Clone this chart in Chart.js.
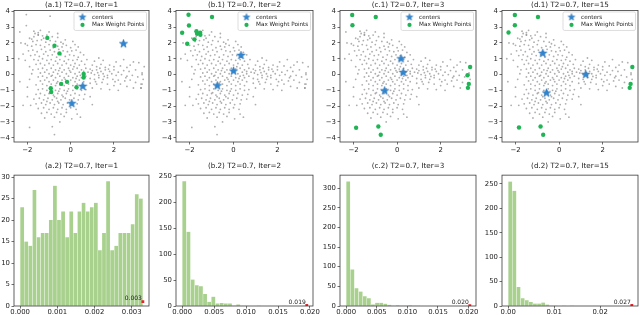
<!DOCTYPE html>
<html>
<head>
<meta charset="utf-8">
<script src="https://cdn.jsdelivr.net/npm/chart.js@4.4.1/dist/chart.umd.min.js"></script>
<style>
  body { margin: 0; background: #fff; width: 640px; height: 315px; overflow: hidden; position: relative; }
  canvas { position: absolute; }
</style>
</head>
<body>
<script>
// ---- data ----
var topTitles = ['(a.1) T2=0.7, Iter=1', '(b.1) T2=0.7, Iter=2', '(c.1) T2=0.7, Iter=3', '(d.1) T2=0.7, Iter=15'];
var bottomTitles = ['(a.2) T2=0.7, Iter=1', '(b.2) T2=0.7, Iter=2', '(c.2) T2=0.7, Iter=3', '(d.2) T2=0.7, Iter=15'];

var greyPoints = [
  [-1.9,2.3],[-1.7,2.4],[-1.5,2.5],[-1.3,2.45],[-1.1,2.5],[-0.85,2.4],[-0.6,2.35],[-1.75,2.1],[-1.55,2.15],[-1.35,2.2],
  [-1.15,2.05],[-0.95,2.15],[-0.7,2.1],[-0.45,2.05],[-0.25,2.2],[-2.0,1.85],[-1.8,1.8],[-1.6,1.9],[-1.4,1.85],[-1.2,1.75],
  [-1.0,1.9],[-0.8,1.7],[-0.6,1.8],[-0.4,1.75],[-0.2,1.85],[0.0,1.7],[0.2,1.9],[-1.95,1.5],[-1.75,1.55],[-1.55,1.45],
  [-1.35,1.6],[-1.15,1.45],[-0.95,1.55],[-0.75,1.45],[-0.55,1.6],[-0.35,1.5],[-0.15,1.45],[0.05,1.5],[0.25,1.55],[0.45,1.4],
  [-1.85,1.2],[-1.65,1.25],[-1.45,1.15],[-1.25,1.3],[-1.05,1.2],[-0.85,1.25],[-0.65,1.1],[-0.45,1.25],[-0.25,1.15],[-0.05,1.25],
  [0.15,1.2],[0.35,1.1],[0.6,1.25],[-1.7,0.95],[-1.5,0.9],[-1.3,1.0],[-1.1,0.9],[-0.9,0.95],[-0.7,0.85],[-0.5,0.95],
  [-0.3,0.85],[-0.1,0.95],[0.1,0.9],[0.3,0.95],[0.5,0.85],[0.75,0.95],[-1.6,0.65],[-1.4,0.7],[-1.2,0.6],[-1.0,0.7],
  [-0.8,0.6],[-0.6,0.7],[-0.4,0.6],[-0.2,0.7],[0.0,0.6],[0.2,0.7],[0.4,0.6],[0.65,0.65],[-2.2,1.3],[-2.1,0.9],
  [-1.9,0.5],[-1.75,0.3],[-1.0,2.7],[-0.6,2.6],[-1.4,2.8],[0.1,2.1],[0.35,1.75],[-2.3,2.0],[-1.25,2.3],[-0.35,1.95],
  [-1.5,0.35],[-1.3,0.4],[-1.1,0.3],[-0.9,0.4],[-0.7,0.3],[-0.5,0.4],[-0.3,0.3],[-0.1,0.4],[0.1,0.35],[0.3,0.4],
  [0.5,0.3],[0.7,0.4],[0.9,0.35],[-1.4,0.1],[-1.2,0.15],[-1.0,0.05],[-0.8,0.15],[-0.6,0.05],[-0.4,0.15],[-0.2,0.05],
  [0.0,0.15],[0.2,0.05],[0.4,0.15],[0.6,0.05],[0.8,0.15],[-1.5,-0.15],[-1.3,-0.1],[-1.1,-0.2],[-0.9,-0.1],[-0.7,-0.2],
  [-0.5,-0.1],[-0.3,-0.2],[-0.1,-0.1],[0.1,-0.2],[0.3,-0.1],[0.5,-0.2],[0.7,-0.1],[-1.4,-0.4],[-1.2,-0.35],[-1.0,-0.45],
  [-0.8,-0.35],[-0.6,-0.45],[-0.4,-0.35],[-0.2,-0.45],[0.0,-0.35],[0.2,-0.45],[0.4,-0.35],[0.6,-0.45],[-1.6,-0.65],[-1.3,-0.6],
  [-1.1,-0.7],[-0.9,-0.6],[-0.7,-0.7],[-0.5,-0.6],[-0.3,-0.7],[-0.1,-0.6],[0.1,-0.7],[0.3,-0.6],[0.5,-0.7],[-1.9,-0.3],
  [-1.8,0.05],[-2.0,-0.8],[-0.55,0.25],[-0.25,-0.3],[0.15,0.5],[-0.85,-0.05],[0.45,-0.05],[-0.05,0.25],[-0.65,-0.55],[0.25,-0.25],
  [1.0,0.6],[1.2,0.5],[1.4,0.65],[1.6,0.45],[1.8,0.6],[2.0,0.5],[2.3,0.55],[2.6,0.45],[2.9,0.8],[3.15,0.75],
  [1.0,0.25],[1.2,0.3],[1.4,0.2],[1.6,0.3],[1.8,0.2],[2.0,0.3],[2.2,0.15],[2.45,0.25],[2.7,0.2],[3.0,0.3],
  [3.3,0.1],[1.1,0.0],[1.3,-0.05],[1.5,0.05],[1.7,-0.05],[1.9,0.05],[2.1,-0.05],[2.35,0.0],[2.6,-0.1],[2.85,-0.05],
  [3.1,-0.15],[0.9,-0.25],[1.1,-0.3],[1.3,-0.2],[1.5,-0.3],[1.7,-0.2],[1.95,-0.3],[2.2,-0.35],[2.5,-0.4],[2.75,-0.35],
  [3.0,-0.5],[3.25,-0.6],[0.9,-0.55],[1.2,-0.6],[1.45,-0.5],[1.7,-0.6],[2.0,-0.7],[2.3,-0.6],[2.6,-0.75],[2.9,-0.85],
  [3.25,-0.85],[1.0,-0.85],[1.4,-0.9],[1.8,-0.95],[2.2,-1.0],[1.1,0.85],[1.5,0.9],[2.1,0.8],[2.45,0.95],[1.3,1.05],
  [3.4,0.5],[1.25,0.12],[1.55,-0.12],[0.95,0.1],[1.35,0.4],[1.75,0.35],[2.05,-0.45],[1.15,-0.45],[2.75,0.6],[3.35,-0.3],
  [-1.5,-0.95],[-1.3,-0.9],[-1.1,-1.0],[-0.9,-0.9],[-0.7,-1.0],[-0.5,-0.9],[-0.3,-1.0],[-0.1,-0.9],[0.1,-1.0],[0.3,-0.9],
  [0.5,-1.0],[0.7,-0.95],[-1.6,-1.25],[-1.4,-1.2],[-1.2,-1.3],[-1.0,-1.2],[-0.8,-1.3],[-0.6,-1.2],[-0.4,-1.3],[-0.2,-1.2],
  [0.0,-1.3],[0.2,-1.2],[0.4,-1.3],[0.65,-1.25],[-1.7,-1.55],[-1.45,-1.5],[-1.25,-1.6],[-1.05,-1.5],[-0.85,-1.6],[-0.65,-1.5],
  [-0.45,-1.6],[-0.25,-1.5],[-0.05,-1.6],[0.15,-1.5],[0.35,-1.6],[0.6,-1.55],[-1.6,-1.85],[-1.35,-1.8],[-1.15,-1.9],[-0.95,-1.8],
  [-0.75,-1.9],[-0.55,-1.8],[-0.35,-1.9],[-0.15,-1.8],[0.05,-1.9],[0.3,-1.85],[-1.5,-2.15],[-1.25,-2.1],[-1.0,-2.2],[-0.8,-2.1],
  [-0.6,-2.2],[-0.4,-2.1],[-0.2,-2.2],[0.0,-2.1],[0.25,-2.2],[-1.35,-2.45],[-1.1,-2.4],[-0.9,-2.5],[-0.65,-2.4],[-0.45,-2.5],
  [-0.2,-2.4],[0.3,-2.5],[0.45,-2.7],[-1.2,-2.75],[-0.75,-2.7],[-0.3,-2.65],[0.05,-2.8],[-0.5,-3.0],[-1.85,-1.95],[-2.2,-1.95],
  [-2.0,-1.4],[0.9,-1.4],[1.0,-1.9],[-0.55,-1.05],[-0.75,-1.4],[-0.35,-1.4],[-0.95,-1.15],[-0.15,-1.05],[-0.6,-1.7],[-1.1,-1.7],
  [-2.05,3.8],[-2.05,3.1],[-2.35,2.7],[-0.95,3.7],[-1.7,2.75],[-1.65,2.6],[-1.5,2.65],[-1.5,2.52],[-1.8,2.25],[-2.1,1.95],
  [3.3,0.0],[3.3,-0.6],[3.25,-0.85],[-2.4,1.0],[-2.35,-0.45],[-1.9,-3.35],[-0.85,-3.3],[-0.75,-3.8],[2.55,-0.2],[0.6,0.2]
];

var greenA = [[-1.08,2.32],[-0.75,1.82],[-0.52,1.34],[0.6,0.04],[0.6,-0.19],[-0.17,-0.46],[-0.44,-0.59],[0.27,-0.8],[-0.92,-0.86],[-0.9,-1.1]];
var greenB = [[-2.05,3.79],[-2.03,3.11],[-2.34,2.65],[-1.69,2.75],[-1.66,2.58],[-1.52,2.65],[-1.51,2.52],[-1.78,2.23],[-2.11,1.95],[-0.98,3.64]];
var greenC = [[-2.06,3.77],[-2.05,3.12],[-0.98,3.64],[3.35,0.48],[3.23,-0.04],[3.29,-0.59],[3.25,-0.84],[-1.88,-3.37],[-0.86,-3.29],[-0.75,-3.81]];
var greenD = [[-2.03,3.77],[-2.03,3.12],[-2.32,2.66],[-0.97,3.64],[3.36,0.48],[3.28,-0.59],[3.24,-0.84],[-1.84,-3.35],[-0.85,-3.29],[-0.73,-3.81]];

var centersA = [[2.44,1.95],[0.56,-0.75],[0.05,-1.84]];
var centersB = [[0.34,1.21],[0.0,0.22],[-0.74,-0.71]];
var centersC = [[0.18,1.0],[0.28,0.13],[-0.57,-1.03]];
var centersD = [[-0.75,1.34],[1.22,0.0],[-0.58,-1.17]];

var scatterXTicks = [-2, 0, 2];
var scatterXLabels = ['\u22122', '0', '2'];
var scatterYTicks = [-4, -3, -2, -1, 0, 1, 2, 3, 4];
var scatterYLabels = ['\u22124', '\u22123', '\u22122', '\u22121', '0', '1', '2', '3', '4'];

var histCountsA = [23,15,14,27,16,17,17,20,28,20,22,16,22,17,22,24,22,23,24,13,17,29,13,14,17,17,17,19,26,25];
var histCountsB = [240,143,51,40,38,23,8,18,5,6,5,5,1,3,1,1,0,0,1,0,0,0,0,0,1,0,0,0,0,1];
var histCountsC = [317,93,45,37,25,20,4,8,8,6,3,1,2,1,1,2,1,1,0,0,0,0,0,0,0,0,0,0,0,1];
var histCountsD = [255,236,39,16,12,8,5,5,7,3,1,1,0,1,0,1,0,0,0,0,0,0,0,0,0,0,0,0,0,1];
var histMaxWeight = [0.0033, 0.0195, 0.0202, 0.0269];
var histMaxLabels = ['0.003', '0.019', '0.020', '0.027'];

var histXTicks = [[0, 0.001, 0.002, 0.003], [0, 0.005, 0.01, 0.015, 0.02], [0, 0.005, 0.01, 0.015, 0.02], [0, 0.01, 0.02]];
var histXLabels = [['0.000', '0.001', '0.002', '0.003'], ['0.000', '0.005', '0.010', '0.015', '0.020'],
                   ['0.000', '0.005', '0.010', '0.015', '0.020'], ['0.00', '0.01', '0.02']];
var histYTicks = [[0, 5, 10, 15, 20, 25, 30], [0, 50, 100, 150, 200, 250], [0, 50, 100, 150, 200, 250, 300], [0, 50, 100, 150, 200, 250]];

// ---- layout / style ----
var FONT = 'DejaVu Sans';
var TEXT = '#222';
var BLUE = '#2f86d1';
var GREEN = '#20b455';
var BAR = '#a9d18e';
var cols = [[14, 149], [176, 313], [340, 476], [502, 638]];
var AXW = 24, AXH = 13, PADR = 10;

function makeStar(color, r) {
  var c = document.createElement('canvas');
  var s = Math.ceil(r * 2 + 2);
  c.width = s; c.height = s;
  var g = c.getContext('2d');
  g.beginPath();
  for (var k = 0; k < 10; k++) {
    var rr = (k % 2) ? r * 0.42 : r;
    var a = -Math.PI / 2 + k * Math.PI / 5;
    g.lineTo(s / 2 + rr * Math.cos(a), s / 2 + rr * Math.sin(a));
  }
  g.closePath();
  g.fillStyle = color;
  g.fill();
  g.strokeStyle = '#1d64a8';
  g.lineWidth = 0.5;
  g.stroke();
  return c;
}
var starImg = makeStar(BLUE, 4.4);
var starSmall = makeStar(BLUE, 3.6);

function addCanvas(L, R, T, B, titleBlock) {
  var c = document.createElement('canvas');
  c.width = AXW + (R - L) + PADR;
  c.height = Math.round(titleBlock + (B - T) + AXH);
  c.style.left = (L - AXW) + 'px';
  c.style.top = (T - titleBlock) + 'px';
  document.body.appendChild(c);
  return c;
}

function axis(min, max, ticks, labels, isX, pad) {
  return {
    type: 'linear', min: min, max: max, offset: false,
    afterBuildTicks: function (s) { s.ticks = ticks.map(function (v) { return { value: v }; }); },
    afterFit: function (s) { if (isX) s.height = AXH; else s.width = AXW; },
    grid: { display: true, drawOnChartArea: false, drawTicks: true, tickLength: 2.5, color: '#333', lineWidth: 0.7, offset: false },
    border: { display: false },
    ticks: {
      autoSkip: false, maxRotation: 0, padding: pad, color: TEXT,
      font: { family: FONT, size: 6.9 },
      callback: function (v, i) { return labels[i]; }
    }
  };
}

function titleCfg(text, pb) {
  return {
    display: true, text: text, fullSize: false, color: TEXT,
    font: { family: FONT, size: 7.2, weight: 'normal', lineHeight: 1.2 },
    padding: { top: 0, bottom: pb }
  };
}

var framePlugin = {
  id: 'frame',
  afterDatasetsDraw: function (chart) {
    var a = chart.chartArea, ctx = chart.ctx;
    ctx.save();
    ctx.strokeStyle = '#3a3a3a';
    ctx.lineWidth = 0.8;
    ctx.strokeRect(a.left, a.top, a.right - a.left, a.bottom - a.top);
    ctx.restore();
  }
};

var legendPlugin = {
  id: 'innerLegend',
  afterDraw: function (chart) {
    var a = chart.chartArea, ctx = chart.ctx;
    var x = a.right - 75, y = a.top + 1.5, w = 72.5, h = 18.5;
    ctx.save();
    ctx.fillStyle = 'rgba(255,255,255,0.85)';
    ctx.strokeStyle = '#cfcfcf';
    ctx.lineWidth = 0.7;
    ctx.beginPath();
    ctx.roundRect(x, y, w, h, 1.5);
    ctx.fill();
    ctx.stroke();
    ctx.drawImage(starSmall, x + 8.5 - starSmall.width / 2, y + 5.3 - starSmall.height / 2);
    ctx.fillStyle = GREEN;
    ctx.beginPath();
    ctx.arc(x + 8.5, y + 13, 2.1, 0, Math.PI * 2);
    ctx.fill();
    ctx.fillStyle = TEXT;
    ctx.font = '5.7px "' + FONT + '"';
    ctx.textBaseline = 'middle';
    ctx.fillText('centers', x + 18, y + 5.3);
    ctx.fillText('Max Weight Points', x + 18, y + 13);
    ctx.restore();
  }
};

var maxLabelPlugin = {
  id: 'maxLabel',
  afterDatasetsDraw: function (chart, args, opts) {
    var meta = chart.getDatasetMeta(1);
    var pt = meta.data[0];
    var ctx = chart.ctx;
    ctx.save();
    ctx.fillStyle = TEXT;
    ctx.font = '6px "' + FONT + '"';
    ctx.textAlign = 'right';
    ctx.textBaseline = 'bottom';
    ctx.fillText(opts.text, pt.x - 1, pt.y - 0.5);
    ctx.restore();
  }
};

function toXY(arr) { return arr.map(function (p) { return { x: p[0], y: p[1] }; }); }

// ---- top row: scatter panels ----
var greens = [greenA, greenB, greenC, greenD];
var centers = [centersA, centersB, centersC, centersD];
for (var i = 0; i < 4; i++) {
  var cv = addCanvas(cols[i][0], cols[i][1], 10, 142, 9.2);
  new Chart(cv, {
    type: 'scatter',
    data: {
      datasets: [
        { label: 'centers', data: toXY(centers[i]), pointStyle: starImg, pointRadius: 4 },
        { label: 'Max Weight Points', data: toXY(greens[i]), pointRadius: 2.2, pointBorderWidth: 0,
          backgroundColor: GREEN, borderColor: GREEN },
        { label: 'points', data: toXY(greyPoints), pointRadius: 0.9, pointBorderWidth: 0,
          backgroundColor: 'rgba(140,140,140,0.7)', borderColor: 'rgba(0,0,0,0)' }
      ]
    },
    options: {
      responsive: false, animation: false, events: [],
      layout: { padding: { left: 0, right: PADR, top: 0, bottom: 0 } },
      scales: {
        x: axis(-2.62, 3.62, scatterXTicks, scatterXLabels, true, 1.5),
        y: axis(-4.27, 4.06, scatterYTicks, scatterYLabels, false, 1.5)
      },
      plugins: {
        legend: { display: false }, tooltip: { enabled: false },
        title: titleCfg(topTitles[i], 0.8)
      }
    },
    plugins: [framePlugin, legendPlugin]
  });
}

// ---- bottom row: weight histograms ----
var histCounts = [histCountsA, histCountsB, histCountsC, histCountsD];
var histYMax = [30.45, 252, 333, 268];
for (var j = 0; j < 4; j++) {
  var counts = histCounts[j];
  var maxW = histMaxWeight[j];
  var binW = maxW / counts.length;
  var margin = maxW * 0.05;
  var cv2 = addCanvas(cols[j][0], cols[j][1], 175, 306, 12.9);
  var yLabels = histYTicks[j].map(String);
  new Chart(cv2, {
    type: 'bar',
    data: {
      datasets: [
        { data: counts.map(function (c, k) { return { x: (k + 0.5) * binW, y: c }; }),
          backgroundColor: BAR, borderColor: 'rgba(255,255,255,0.35)', borderWidth: { left: 0.5, right: 0.5, top: 0, bottom: 0 },
          barPercentage: 1, categoryPercentage: 1, order: 2 },
        { type: 'scatter', data: [{ x: maxW, y: 1 }], pointStyle: 'rect', pointRadius: 2, pointBorderWidth: 0,
          backgroundColor: '#e3262b', borderColor: '#e3262b', order: 1 }
      ]
    },
    options: {
      responsive: false, animation: false, events: [],
      layout: { padding: { left: 0, right: PADR, top: 0, bottom: 0 } },
      scales: {
        x: axis(-margin, maxW + margin, histXTicks[j], histXLabels[j], true, -0.8),
        y: axis(0, histYMax[j], histYTicks[j], yLabels, false, 1.5)
      },
      plugins: {
        legend: { display: false }, tooltip: { enabled: false },
        title: titleCfg(bottomTitles[j], 4.5),
        maxLabel: { text: histMaxLabels[j] }
      }
    },
    plugins: [framePlugin, maxLabelPlugin]
  });
}
</script>
</body>
</html>
